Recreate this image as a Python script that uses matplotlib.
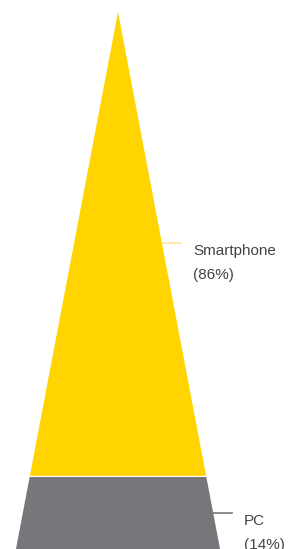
import matplotlib.pyplot as plt

plt.rcParams['font.family'] = ['Liberation Sans', 'DejaVu Sans']

# Datos del embudo (pirámide)
categories = ['Smartphone', 'PC']
shares = [86, 14]
colors = ['#FFD400', '#76777B']
line_colors = ['#FCE79A', '#76777B']

# Geometría de la pirámide (en unidades de píxel)
apex_x, apex_y = 118, 12
total_h = 540
slope = 0.19  # media anchura por unidad de altura
gap = 1.2

fig = plt.figure(figsize=(2.88, 5.49), dpi=100)
ax = fig.add_axes([0, 0, 1, 1])
ax.set_xlim(0, 288)
ax.set_ylim(549, 0)
ax.axis('off')

top = 0.0
for cat, s, c, lc in zip(categories, shares, colors, line_colors):
    h = total_h * s / 100
    y0 = apex_y + top
    y1 = apex_y + top + h
    ya = y0 + (gap / 2 if top > 0 else 0)
    yb = y1 - gap / 2
    xs = [apex_x - slope * (ya - apex_y), apex_x + slope * (ya - apex_y),
          apex_x + slope * (yb - apex_y), apex_x - slope * (yb - apex_y)]
    ys = [ya, ya, yb, yb]
    ax.fill(xs, ys, color=c, lw=0)
    ym = (y0 + y1) / 2 - 1
    xe = apex_x + slope * (ym - apex_y)
    ax.plot([xe, xe + 19], [ym, ym], color=lc, lw=1.2)
    ax.text(xe + 31, ym + 12, cat, fontsize=11, color='#444444',
            va='baseline', ha='left')
    ax.text(xe + 31, ym + 36, f'({s}%)', fontsize=11, color='#444444',
            va='baseline', ha='left')
    top += h

plt.savefig('out.png', dpi=100)
